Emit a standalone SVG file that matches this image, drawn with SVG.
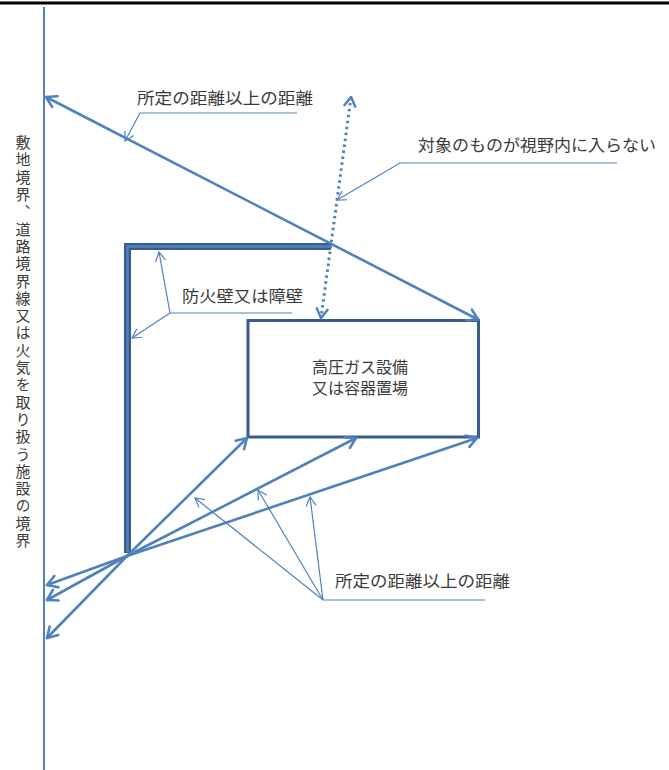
<svg xmlns="http://www.w3.org/2000/svg" width="669" height="770" viewBox="0 0 669 770">
<style>
.t{font-family:"Liberation Sans","Noto Sans CJK JP",sans-serif;font-size:16px;fill:#3a3a3a}
.v{font-family:"Liberation Sans","Noto Sans CJK JP",sans-serif;font-size:15px;fill:#3a3a3a;writing-mode:vertical-rl;letter-spacing:2.3px}
.thick{fill:none;stroke:#4F81BD;stroke-width:2.6;stroke-linecap:round}
.thin{fill:none;stroke:#4F81BD;stroke-width:1.2}
.dot{fill:none;stroke:#4F81BD;stroke-width:3;stroke-dasharray:2.5 3.5}
</style>
<defs>
<marker id="ah" markerUnits="userSpaceOnUse" viewBox="-12 -8 14 16" refX="0" refY="0" markerWidth="14" markerHeight="16" orient="auto-start-reverse" overflow="visible">
<path d="M-10,-6 L0,0 L-10,6" fill="none" stroke="#4F81BD" stroke-width="2.6" stroke-linecap="round" stroke-linejoin="round"/>
</marker>
<marker id="ahd" markerUnits="userSpaceOnUse" viewBox="-12 -8 14 16" refX="0" refY="0" markerWidth="14" markerHeight="16" orient="auto-start-reverse" overflow="visible">
<path d="M-9,-5.5 L0,0 L-9,5.5" fill="none" stroke="#4F81BD" stroke-width="2.4" stroke-linecap="round" stroke-linejoin="round"/>
</marker>
<marker id="as" markerUnits="userSpaceOnUse" viewBox="-10 -6 12 12" refX="0" refY="0" markerWidth="12" markerHeight="12" orient="auto" overflow="visible">
<path d="M-9,-5 L0,0 L-9,5" fill="none" stroke="#4F81BD" stroke-width="1.2"/>
</marker>
</defs>
<rect x="0" y="1.5" width="669" height="3" fill="#000"/>
<g id="boundary">
<line x1="44" y1="7" x2="44" y2="770" stroke="#4F81BD" stroke-width="2"/>
<text class="v" x="22" y="135">敷地境界、道路境界線又は火気を取り扱う施設の境界</text>
</g>
<g id="wall">
<path d="M331,246.5 L127.5,246.5 L127.5,553" fill="none" stroke="#385D8A" stroke-width="7" stroke-linejoin="miter"/>
<path d="M330,246.5 L127.5,246.5 L127.5,552" fill="none" stroke="#4F81BD" stroke-width="2.5"/>
</g>
<g id="facility">
<rect x="248" y="320.5" width="230.5" height="116.5" fill="#fff" stroke="#385D8A" stroke-width="3"/>
<text class="t" x="360" y="373" text-anchor="middle">高圧ガス設備</text>
<text class="t" x="360" y="394" text-anchor="middle">又は容器置場</text>
</g>
<g id="connectors">
<line class="thick" x1="46" y1="97" x2="478" y2="319.5" marker-start="url(#ah)" marker-end="url(#ah)"/>
<line class="dot" x1="351" y1="97" x2="321" y2="318" marker-start="url(#ahd)" marker-end="url(#ahd)"/>
<line class="thick" x1="127" y1="556" x2="247" y2="438" marker-end="url(#ah)"/>
<line class="thick" x1="127" y1="556" x2="356" y2="438" marker-end="url(#ah)"/>
<line class="thick" x1="127" y1="556" x2="477" y2="438" marker-end="url(#ah)"/>
<line class="thick" x1="127" y1="556" x2="47" y2="585" marker-end="url(#ah)"/>
<line class="thick" x1="127" y1="556" x2="47" y2="600" marker-end="url(#ah)"/>
<line class="thick" x1="127" y1="556" x2="47" y2="638" marker-end="url(#ah)"/>
</g>
<g id="label-top">
<text class="t" x="137" y="104" textLength="176" lengthAdjust="spacingAndGlyphs">所定の距離以上の距離</text>
<path class="thin" d="M297,113 L140,113 L125,141" marker-end="url(#as)"/>
</g>
<g id="label-sight">
<text class="t" x="418" y="151" textLength="238" lengthAdjust="spacingAndGlyphs">対象のものが視野内に入らない</text>
<path class="thin" d="M617,163 L400,163 L337,200" marker-end="url(#as)"/>
</g>
<g id="label-wall">
<text class="t" x="182" y="302" textLength="121" lengthAdjust="spacingAndGlyphs">防火壁又は障壁</text>
<path class="thin" d="M292,313 L170,313"/>
<path class="thin" d="M170,313 L159,252" marker-end="url(#as)"/>
<path class="thin" d="M170,313 L132,338" marker-end="url(#as)"/>
</g>
<g id="label-bottom">
<text class="t" x="335" y="587" textLength="175" lengthAdjust="spacingAndGlyphs">所定の距離以上の距離</text>
<path class="thin" d="M485,600 L323,600"/>
<path class="thin" d="M323,600 L195,498" marker-end="url(#as)"/>
<path class="thin" d="M323,600 L258,490" marker-end="url(#as)"/>
<path class="thin" d="M323,600 L310,497" marker-end="url(#as)"/>
</g>
</svg>
